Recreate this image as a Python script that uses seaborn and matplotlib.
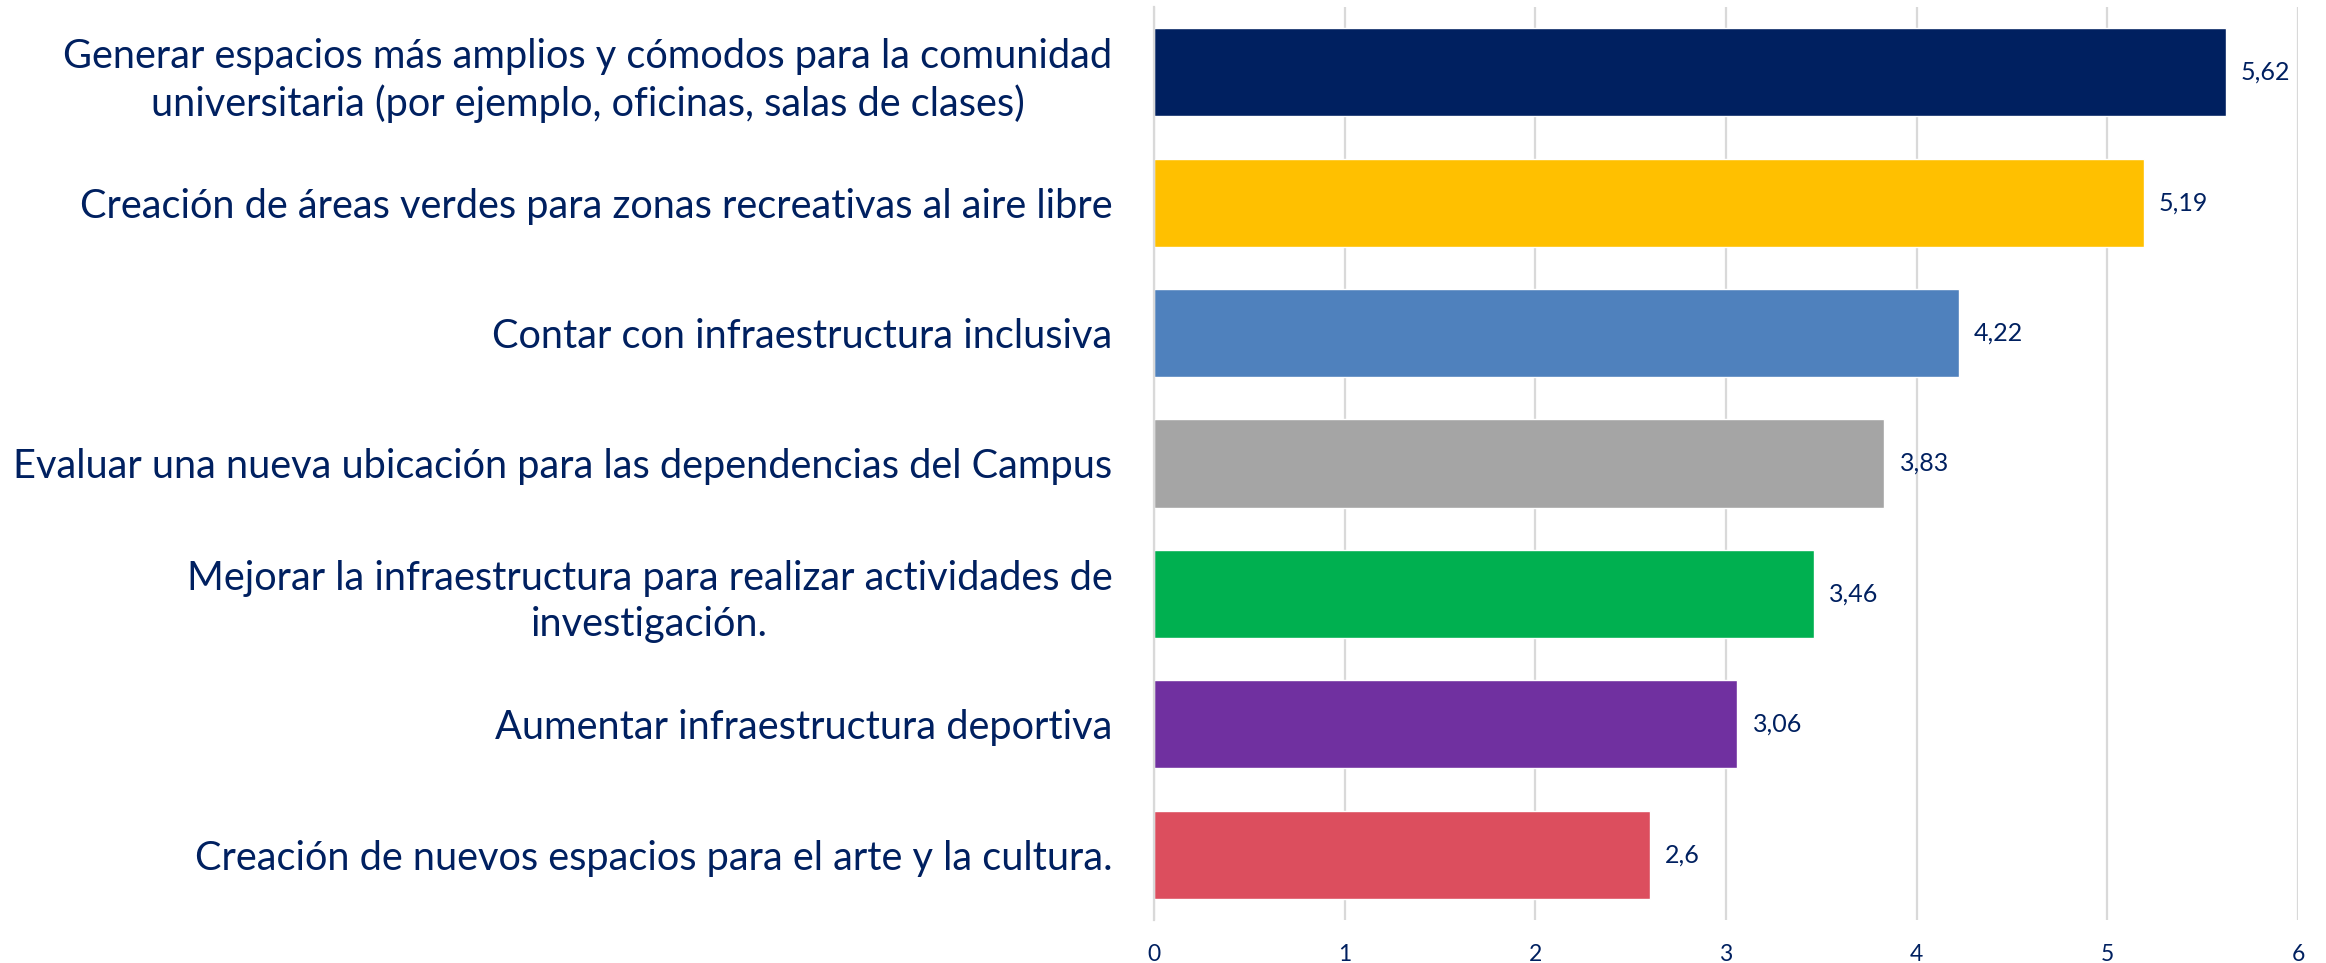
import seaborn as sns
import matplotlib.pyplot as plt
import pandas as pd

categorias = [
    "Generar espacios más amplios y cómodos para la comunidad\nuniversitaria (por ejemplo, oficinas, salas de clases)",
    "Creación de áreas verdes para zonas recreativas al aire libre",
    "Contar con infraestructura inclusiva",
    "Evaluar una nueva ubicación para las dependencias del Campus",
    "Mejorar la infraestructura para realizar actividades de\ninvestigación.",
    "Aumentar infraestructura deportiva",
    "Creación de nuevos espacios para el arte y la cultura.",
]
valores = [5.62, 5.19, 4.22, 3.83, 3.46, 3.06, 2.6]
etiquetas = ["5,62", "5,19", "4,22", "3,83", "3,46", "3,06", "2,6"]
colores = ["#002060", "#FFC000", "#4F81BD", "#A5A5A5", "#00B050", "#7030A0", "#DC4E5E"]

navy = "#002060"
grid = "#D9D9D9"

sns.set_style("white")
plt.rcParams['font.family'] = ['Lato', 'DejaVu Sans']

df = pd.DataFrame({"cat": categorias, "val": valores})

fig = plt.figure(figsize=(23.26, 9.63), dpi=100)
ax = fig.add_axes([0.4961, 0.0447, 0.988 - 0.4961, 0.9927 - 0.0447])

sns.barplot(data=df, x="val", y="cat", hue="cat", palette=colores, legend=False,
            orient="h", width=0.677, saturation=1, ax=ax)

ax.set_xlim(0, 6)
ax.set_xticks(range(7))
ax.xaxis.grid(True, color=grid, linewidth=1.6)
ax.set_axisbelow(True)
for s in ["top", "right", "bottom"]:
    ax.spines[s].set_visible(False)
ax.spines["left"].set_color(grid)
ax.spines["left"].set_linewidth(1.6)
ax.set_xlabel("")
ax.set_ylabel("")

ax.tick_params(axis="x", length=0, pad=17, labelsize=16.5, labelcolor=navy)
ax.tick_params(axis="y", length=0, pad=30, labelsize=28.6, labelcolor=navy)
for t in ax.get_yticklabels():
    t.set_multialignment("center")
    t.set_linespacing(1.3)

for i, (v, lab) in enumerate(zip(valores, etiquetas)):
    ax.annotate(lab, (v, i), xytext=(11, 0), textcoords="offset points",
                va="center", ha="left", fontsize=18, color=navy)

fig.savefig("out.png", dpi=100)
